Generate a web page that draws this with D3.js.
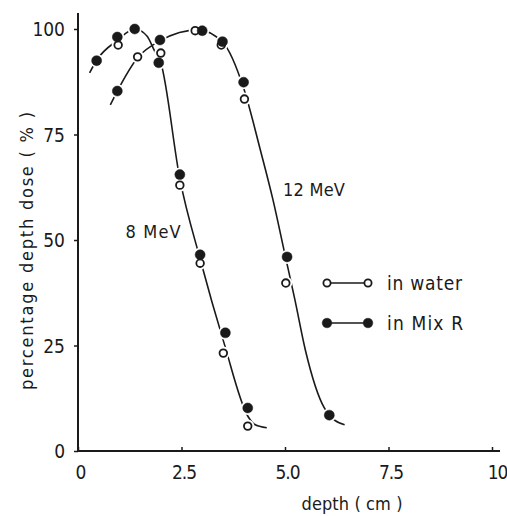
<!DOCTYPE html>
<html><head><meta charset="utf-8">
<script src="https://cdn.jsdelivr.net/npm/d3@7"></script>
<style>
html,body{margin:0;padding:0;background:#fff;}
svg text{font-family:"DejaVu Sans Condensed","Liberation Sans Narrow","Liberation Sans",sans-serif;fill:#1a1a1a;}
</style></head>
<body><svg id="c" width="507" height="516"></svg>
<script>
// ---- data ----
const xTicks = [0, 2.5, 5.0, 7.5, 10];
const xTickLabels = ["0", "2.5", "5.0", "7.5", "10"];
const yTicks = [0, 25, 50, 75, 100];
const yTickLabels = ["0", "25", "50", "75", "100"];

const mev8MixR  = [[0.45,92.5],[0.95,98.1],[1.37,100],[1.95,92],[2.46,65.5],[2.95,46.5],[3.56,28],[4.1,10.2]];
const mev8Water = [[0.97,96.2],[2.0,94.3],[2.46,63],[2.95,44.5],[3.51,23.2],[4.1,5.9]];
const mev12MixR = [[0.95,85.3],[1.98,97.4],[3.0,99.6],[3.49,97],[4.0,87.4],[5.05,46],[6.07,8.5]];
const mev12Water= [[1.44,93.4],[2.83,99.6],[3.46,96.2],[4.02,83.4],[5.02,39.8]];

const curve8  = [[0.28,89.6],[0.45,92.6],[0.95,97.3],[1.37,100],[1.67,98.3],[1.84,95],[2.0,92],[2.46,64.5],[2.95,45.5],[3.53,25.5],[4.1,8.3],[4.25,6.4],[4.56,5.5]];
const curve12 = [[0.78,82],[0.95,85.3],[1.44,93.2],[2.0,97.3],[2.9,99.8],[3.5,96.8],[4.0,86],[4.4,71.5],[4.71,59.5],[5.0,46.5],[5.24,35.8],[5.49,24],[5.95,10.2],[6.07,8.5],[6.44,6.2]];

const curveLabels = [{t:"8 MeV", x:1.15, y:50.5, w:55}, {t:"12 MeV", x:4.95, y:60.5, w:62}];
const legendItems = [{t:"in water", filled:false, w:75}, {t:"in Mix R", filled:true, w:76}];

// ---- scales ----
const svg = d3.select("#c");
const x = d3.scaleLinear().domain([0, 10]).range([78, 492]);
const y = d3.scaleLinear().domain([0, 100]).range([451, 29]);
const ink = "#1a1a1a";

// axes
const yAxis = d3.axisLeft(y).tickValues(yTicks).tickFormat((d,i)=>yTickLabels[i]).tickSize(4).tickSizeOuter(0);
const gy = svg.append("g").attr("transform", `translate(${x(0)},0)`).call(yAxis);
gy.select(".domain").remove();
gy.selectAll("line").attr("stroke", ink).attr("stroke-width", 1.5);
gy.selectAll("text").attr("font-size", 19).attr("x", -13).attr("dy", "0.36em").attr("fill", ink);
svg.append("line").attr("x1", x(0)).attr("x2", x(0)).attr("y1", 13).attr("y2", y(0)+1)
  .attr("stroke", ink).attr("stroke-width", 2);

const xAxis = d3.axisBottom(x).tickValues(xTicks).tickFormat((d,i)=>xTickLabels[i]).tickSize(-4).tickSizeOuter(0);
const gx = svg.append("g").attr("transform", `translate(0,${y(0)})`).call(xAxis);
gx.select(".domain").remove();
gx.selectAll("line").attr("stroke", ink).attr("stroke-width", 1.5);
gx.selectAll("text").attr("y", 15).attr("font-size", 19).attr("fill", ink).attr("letter-spacing", -1)
  .attr("x", (d)=> d===10 ? 5 : 2);
svg.append("line").attr("x1", x(0)-1).attr("x2", 500).attr("y1", y(0)).attr("y2", y(0))
  .attr("stroke", ink).attr("stroke-width", 2);

// axis titles
svg.append("text").attr("transform", "translate(33,251) rotate(-90)")
  .attr("text-anchor","middle").attr("font-size", 18)
  .attr("textLength", 278).attr("lengthAdjust","spacing")
  .text("percentage depth dose ( % )");
svg.append("text").attr("x", 352).attr("y", 510).attr("text-anchor","middle")
  .attr("font-size", 18).attr("textLength", 101).attr("lengthAdjust","spacing")
  .text("depth ( cm )");

// curves
const line = d3.line().x(d=>x(d[0])).y(d=>y(d[1])).curve(d3.curveMonotoneX);
[curve8, curve12].forEach(c=>{
  svg.append("path").attr("d", line(c)).attr("fill","none").attr("stroke", ink).attr("stroke-width", 1.6);
});

// markers with white halo (gap)
function drawPts(data, filled){
  svg.append("g").selectAll("circle").data(data).join("circle")
    .attr("cx", d=>x(d[0])).attr("cy", d=>y(d[1])).attr("r", filled?7:6.5).attr("fill","#fff");
}
function drawMarks(data, filled){
  svg.append("g").selectAll("circle").data(data).join("circle")
    .attr("cx", d=>x(d[0])).attr("cy", d=>y(d[1]))
    .attr("r", filled?5:3.8)
    .attr("fill", filled?ink:"#fff").attr("stroke", ink).attr("stroke-width", filled?0.5:1.8);
}
drawPts(mev8Water,false); drawPts(mev12Water,false);
drawPts(mev8MixR,true); drawPts(mev12MixR,true);
drawMarks(mev8Water,false); drawMarks(mev12Water,false);
drawMarks(mev8MixR,true); drawMarks(mev12MixR,true);

// curve labels
curveLabels.forEach(l=>{
  svg.append("text").attr("x", x(l.x)).attr("y", y(l.y)).attr("font-size", 18)
    .attr("textLength", l.w).attr("lengthAdjust","spacing").text(l.t);
});

// legend
legendItems.forEach((it,i)=>{
  const ly = 283 + i*40;
  svg.append("line").attr("x1",327).attr("x2",368).attr("y1",ly).attr("y2",ly).attr("stroke",ink).attr("stroke-width",1.6);
  [327,368].forEach(cx=>{
    svg.append("circle").attr("cx",cx).attr("cy",ly).attr("r", it.filled?4.8:3.6)
      .attr("fill", it.filled?ink:"#fff").attr("stroke",ink).attr("stroke-width", it.filled?0.5:1.8);
  });
  svg.append("text").attr("x",387).attr("y",ly+7).attr("font-size",19)
    .attr("textLength", it.w).attr("lengthAdjust","spacing").text(it.t);
});
</script></body></html>
